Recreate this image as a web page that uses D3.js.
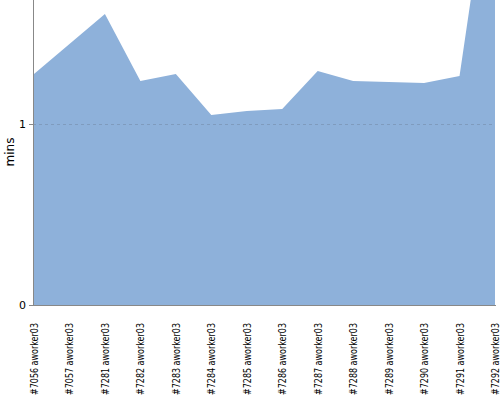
<!DOCTYPE html>
<html><head><meta charset="utf-8">
<script src="https://cdn.jsdelivr.net/npm/d3@7"></script>
<style>body{margin:0;background:#fff}svg{display:block}</style>
</head><body>
<svg id="c" width="500" height="400"></svg>
<script>
const categories = ["#7056 aworker03","#7057 aworker03","#7281 aworker03","#7282 aworker03","#7283 aworker03","#7284 aworker03","#7285 aworker03","#7286 aworker03","#7287 aworker03","#7288 aworker03","#7289 aworker03","#7290 aworker03","#7291 aworker03","#7292 aworker03"];
const values = [1.276,1.442,1.608,1.238,1.276,1.050,1.072,1.083,1.293,1.238,1.232,1.227,1.265,2.6];
const yTicks = [0,1];
const yLabel = "mins";

(function(){
const svg = d3.select("#c");
const mL = 33, mR = 495, mT = 0, mB = 305;
const x = d3.scalePoint().domain(categories).range([mL+1, mR]);
const y = d3.scaleLinear().domain([0, 305/181]).range([mB, mT]);

svg.append("defs").append("clipPath").attr("id","clip")
  .append("rect").attr("x",mL).attr("y",mT).attr("width",mR-mL).attr("height",mB-mT);

const data = categories.map((c,i)=>({c, v: values[i]}));
const area = d3.area().x(d=>x(d.c)).y0(y(0)).y1(d=>y(d.v));
svg.append("path").datum(data).attr("d", area).attr("fill","#8eb1da").attr("clip-path","url(#clip)");

// grid
svg.append("g").selectAll("line").data(yTicks.filter(t=>t>0)).join("line")
  .attr("x1",mL).attr("x2",mR).attr("y1",d=>Math.round(y(d))+0.5).attr("y2",d=>Math.round(y(d))+0.5)
  .attr("stroke","#7f9bbd").attr("stroke-dasharray","3,3").attr("stroke-width",1);

// y axis
const ya = svg.append("g").attr("transform",`translate(${mL},0)`)
  .call(d3.axisLeft(y).tickValues(yTicks).tickFormat(d3.format("d")).tickSize(4).tickSizeOuter(0));
ya.select(".domain").attr("stroke","#888").attr("d",`M0.5,${mT}V${mB}`);
ya.selectAll(".tick line").attr("stroke","#888");
ya.selectAll(".tick text").attr("font-family","DejaVu Sans, sans-serif").attr("font-size",11).attr("fill","#000").attr("x",-7);

// x axis
const xa = svg.append("g").attr("transform",`translate(0,${mB})`)
  .call(d3.axisBottom(x).tickSize(0).tickSizeOuter(0));
xa.select(".domain").attr("stroke","#888").attr("d",`M${mL},0.5H${mR+1}`);
xa.selectAll(".tick text")
  .attr("font-family","DejaVu Sans, sans-serif").attr("font-size",10).attr("fill","#000")
  .attr("transform","rotate(-90)").attr("text-anchor","end").attr("x",-18).attr("y",0).attr("dy","0.35em")
  .attr("textLength",72).attr("lengthAdjust","spacingAndGlyphs");

svg.append("text").attr("transform",`translate(14,${152}) rotate(-90)`)
  .attr("text-anchor","middle").attr("font-family","DejaVu Sans, sans-serif").attr("font-size",12).text(yLabel);
})();
</script>
</body></html>
